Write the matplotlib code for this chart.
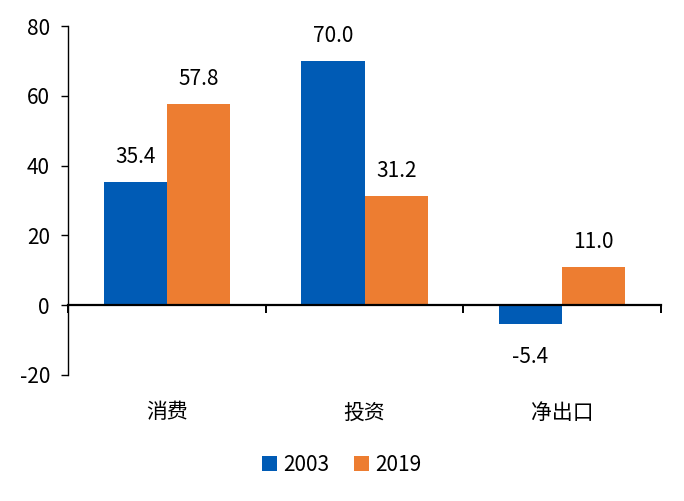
import numpy as np
import matplotlib
matplotlib.use('Agg')
import matplotlib.pyplot as plt
import matplotlib.transforms as mtransforms

plt.rcParams['font.family'] = ['Noto Sans CJK SC', 'DejaVu Sans']
plt.rcParams['axes.unicode_minus'] = False

categories = ['消费', '投资', '净出口']
series_names = ['2003', '2019']
values_2003 = [35.4, 70.0, -5.4]
values_2019 = [57.8, 31.2, 11.0]
yticks = [-20, 0, 20, 40, 60, 80]

blue = '#005BB5'
orange = '#ED7D31'
fs = 15

fig = plt.figure(figsize=(6.84, 5.01), dpi=100)
ax = fig.add_axes([0.0994, 0.2515, 0.8670, 0.6965])

x = np.arange(len(categories))
w = 0.32
b1 = ax.bar(x - w / 2, values_2003, w, color=blue, label=series_names[0])
b2 = ax.bar(x + w / 2, values_2019, w, color=orange, label=series_names[1])

for bars, vals in [(b1, values_2003), (b2, values_2019)]:
    for rect, v in zip(bars, vals):
        cx = rect.get_x() + rect.get_width() / 2
        if v >= 0:
            ax.annotate(f'{v:.1f}', (cx, v), xytext=(0, 10), textcoords='offset points',
                        ha='center', va='bottom', fontsize=fs)
        else:
            ax.annotate(f'{v:.1f}', (cx, v), xytext=(0, -16), textcoords='offset points',
                        ha='center', va='top', fontsize=fs)

ax.set_xlim(-0.5, 2.5)
ax.set_ylim(-20, 80)
ax.set_yticks(yticks)
ax.tick_params(axis='y', labelsize=fs, length=5, width=1, direction='out', pad=8)

ax.spines['top'].set_visible(False)
ax.spines['right'].set_visible(False)
ax.spines['bottom'].set_position(('data', 0))
ax.spines['bottom'].set_linewidth(1.6)
ax.spines['left'].set_linewidth(1)

ax.set_xticks([-0.5, 0.5, 1.5, 2.5])
ax.set_xticklabels([])
ax.tick_params(axis='x', length=6, width=1.4, direction='out')

trans = mtransforms.blended_transform_factory(ax.transData, ax.transAxes)
for i, c in enumerate(categories):
    ax.annotate(c, (i, 0), xycoords=trans, xytext=(0, -27), textcoords='offset points',
                ha='center', va='center', fontsize=fs)

fig.legend(handles=[b1, b2], labels=series_names, loc='center', bbox_to_anchor=(0.5, 0.072),
           ncol=2, frameon=False, fontsize=fs, handlelength=0.7, handleheight=0.7,
           handletextpad=0.3, columnspacing=1.2)

fig.savefig('out.png', dpi=100)
